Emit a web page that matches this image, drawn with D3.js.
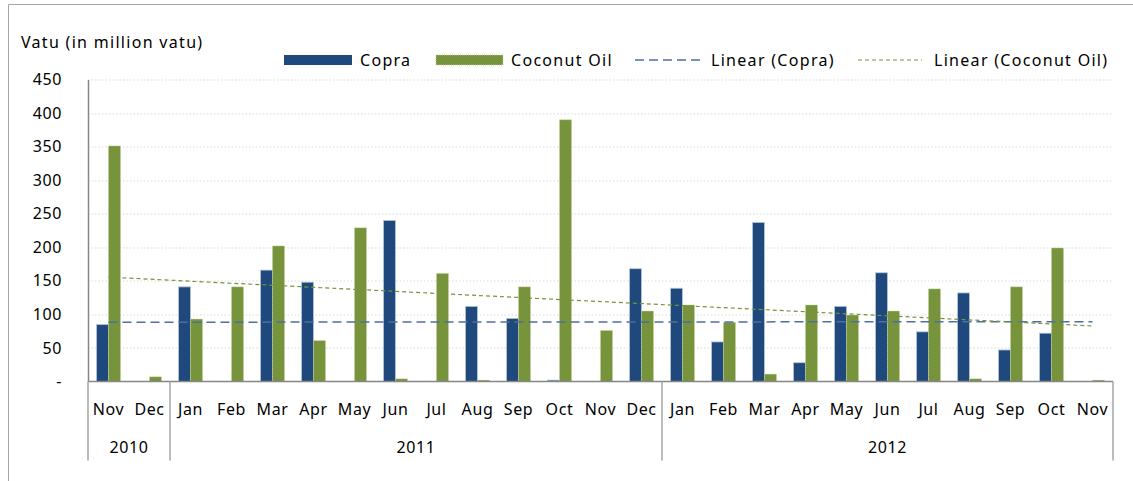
<!DOCTYPE html>
<html>
<head>
<meta charset="utf-8">
<script src="https://cdn.jsdelivr.net/npm/d3@7"></script>
<style>
  body { margin: 0; background: #fff; }
  svg text { font-family: "Noto Sans", "Open Sans", sans-serif; fill: #000; }
  .spaced { letter-spacing: 1.3px; }
</style>
</head>
<body>
<svg id="chart" width="1133" height="481"></svg>
<script>
// months from Nov 2010 to Nov 2012
let months = ['Nov', 'Dec',
  'Jan', 'Feb', 'Mar', 'Apr', 'May', 'Jun', 'Jul', 'Aug', 'Sep', 'Oct', 'Nov', 'Dec',
  'Jan', 'Feb', 'Mar', 'Apr', 'May', 'Jun', 'Jul', 'Aug', 'Sep', 'Oct', 'Nov'];
let years = [
  {label: '2010', count: 2},
  {label: '2011', count: 12},
  {label: '2012', count: 11}
];
let copra = [85, 0, 141, 0, 166, 148, 0, 240, 0, 112, 94, 2, 0, 168,
  139, 59, 237, 28, 112, 162, 74, 132, 47, 72, 0];
let coconutOil = [351, 7, 93, 141, 202, 61, 229, 4, 161, 2, 141, 390, 76, 105,
  114, 88, 11, 114, 99, 105, 138, 4, 141, 199, 2];
let yTicks = [0, 50, 100, 150, 200, 250, 300, 350, 400, 450];

let blue = '#1f497d', green = '#77933c';

let margin = {top: 79.5, left: 88, right: 20, bottom: 99.5};
let width = 1133 - margin.left - margin.right,
    height = 481 - margin.top - margin.bottom;

let svg = d3.select('#chart');

// outer frame (top and left edges are visible)
svg.append('line').attr('x1', 8.5).attr('x2', 1133).attr('y1', 4.5).attr('y2', 4.5)
  .attr('stroke', '#a6a6a6');
svg.append('line').attr('x1', 8.5).attr('x2', 8.5).attr('y1', 4.5).attr('y2', 481)
  .attr('stroke', '#a6a6a6');

let g = svg.append('g').attr('transform', 'translate(' + margin.left + ',' + margin.top + ')');

let idx = d3.range(months.length);
let x = d3.scaleBand().domain(idx).range([0, width]).paddingInner(0).paddingOuter(0);
let y = d3.scaleLinear().domain([0, 450]).range([height, 0]);
let barW = 12;

// gridlines
g.selectAll('.grid').data(yTicks.slice(1)).enter().append('line')
  .attr('x1', 0).attr('x2', width)
  .attr('y1', d => Math.round(y(d)) + 0.5).attr('y2', d => Math.round(y(d)) + 0.5)
  .attr('stroke', '#d9d9d9').attr('stroke-dasharray', '1.5,2');

// y axis
let yAxis = d3.axisLeft(y).tickValues(yTicks).tickSize(0).tickPadding(26)
  .tickFormat(d => d === 0 ? '-' : d);
let ya = g.append('g').call(yAxis);
ya.select('.domain').attr('stroke', '#868686').attr('stroke-width', 1.5);
ya.selectAll('text').style('font-size', '16px').style('letter-spacing', '0.6px');

// bars
g.selectAll('.copra').data(copra).enter().append('rect')
  .attr('x', (d, i) => x(i) + x.bandwidth() / 2 - barW)
  .attr('y', d => y(d))
  .attr('width', barW)
  .attr('height', d => height - y(d))
  .attr('fill', blue)
  .attr('stroke', d => d > 0 ? '#b7c6da' : 'none').attr('stroke-width', 0.8);

g.selectAll('.oil').data(coconutOil).enter().append('rect')
  .attr('x', (d, i) => x(i) + x.bandwidth() / 2)
  .attr('y', d => y(d))
  .attr('width', barW)
  .attr('height', d => height - y(d))
  .attr('fill', green)
  .attr('stroke', '#c3d69b').attr('stroke-width', 0.8).attr('stroke-dasharray', '1,1');

// linear trend lines (least squares)
function trend(vals) {
  let n = vals.length, mx = d3.mean(idx), my = d3.mean(vals);
  let sxy = d3.sum(idx, i => (i - mx) * (vals[i] - my));
  let sxx = d3.sum(idx, i => (i - mx) * (i - mx));
  let b = sxy / sxx, a = my - b * mx;
  return [0, n - 1].map(i => ({i: i, v: a + b * i}));
}
let line = d3.line().x(d => x(d.i) + x.bandwidth() / 2).y(d => y(d.v));

g.append('path').datum(trend(copra)).attr('d', line)
  .attr('fill', 'none').attr('stroke', '#4f6f9f').attr('stroke-width', 1.5)
  .attr('stroke-dasharray', '9,5');
g.append('path').datum(trend(coconutOil)).attr('d', line)
  .attr('fill', 'none').attr('stroke', '#77933c').attr('stroke-width', 1.2)
  .attr('stroke-dasharray', '4,3');

// x axis baseline
g.append('line').attr('x1', 0).attr('x2', width).attr('y1', height).attr('y2', height)
  .attr('stroke', '#868686').attr('stroke-width', 1.5);

// month labels
g.selectAll('.month').data(months).enter().append('text')
  .attr('x', (d, i) => x(i) + x.bandwidth() / 2)
  .attr('y', height + 33)
  .attr('text-anchor', 'middle').style('font-size', '16px').style('letter-spacing', '0.6px')
  .text(d => d);

// year groups with separators
let start = 0;
let seps = [0];
years.forEach(yr => {
  let x0 = x(start), x1 = start + yr.count < months.length ? x(start + yr.count) : width;
  g.append('text').attr('x', (x0 + x1) / 2).attr('y', height + 71)
    .attr('text-anchor', 'middle').style('font-size', '16px').style('letter-spacing', '0.6px')
    .text(yr.label);
  start += yr.count;
  seps.push(x1);
});
g.selectAll('.sep').data(seps).enter().append('line')
  .attr('x1', d => d).attr('x2', d => d)
  .attr('y1', height).attr('y2', height + 79)
  .attr('stroke', '#a6a6a6').attr('stroke-width', 1.5);

// axis title
svg.append('text').attr('class', 'spaced').attr('x', 21).attr('y', 48).style('font-size', '16px')
  .text('Vatu (in million vatu)');

// legend
let leg = svg.append('g');
leg.append('rect').attr('x', 284).attr('y', 55).attr('width', 68).attr('height', 10).attr('fill', blue);
leg.append('text').attr('class', 'spaced').attr('x', 360).attr('y', 66).style('font-size', '16px').text('Copra');
leg.append('rect').attr('x', 436).attr('y', 55).attr('width', 67).attr('height', 10).attr('fill', green)
  .attr('stroke', '#c3d69b').attr('stroke-width', 0.8).attr('stroke-dasharray', '1,1');
leg.append('text').attr('class', 'spaced').attr('x', 511).attr('y', 66).style('font-size', '16px').text('Coconut Oil');
leg.append('line').attr('x1', 635).attr('x2', 700).attr('y1', 60).attr('y2', 60)
  .attr('stroke', '#4f6f9f').attr('stroke-width', 1.5).attr('stroke-dasharray', '9,5');
leg.append('text').attr('class', 'spaced').attr('x', 711).attr('y', 66).style('font-size', '16px').text('Linear (Copra)');
leg.append('line').attr('x1', 858).attr('x2', 922).attr('y1', 60).attr('y2', 60)
  .attr('stroke', '#77933c').attr('stroke-width', 1.2).attr('stroke-dasharray', '4,3');
leg.append('text').attr('class', 'spaced').attr('x', 934).attr('y', 66).style('font-size', '16px').text('Linear (Coconut Oil)');
</script>
</body>
</html>
